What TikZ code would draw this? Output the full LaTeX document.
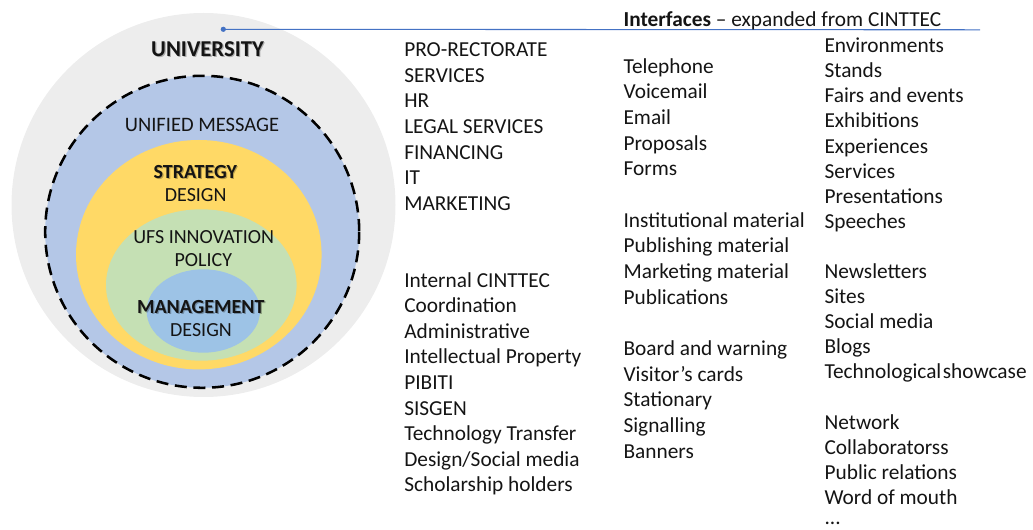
\documentclass[tikz,border=0pt]{standalone}
\usepackage{fontspec}
\setmainfont{Carlito}
\definecolor{ink}{HTML}{141414}
\definecolor{unigray}{HTML}{EDEDED}
\definecolor{msgblue}{HTML}{B4C7E7}
\definecolor{stratyellow}{HTML}{FFD966}
\definecolor{policygreen}{HTML}{C5E0B4}
\definecolor{mgmtblue}{HTML}{9DC3E6}
\definecolor{leader}{HTML}{4472C4}
\begin{document}
\begin{tikzpicture}[x=0.75pt,y=-0.75pt,
  item/.style={anchor=base west, inner sep=0pt, text=ink, font=\fontsize{16}{19}\selectfont},
  ring/.style={anchor=base, inner sep=0pt, text=ink, font=\fontsize{15}{18}\selectfont},
  ringbold/.style={ring, font=\fontsize{15}{18}\selectfont\bfseries},
  shade/.style={text=black, opacity=0.28},
]
\useasboundingbox (0,0) rectangle (1033,530);

% nested circles
\fill[unigray] (203.5,205) circle[radius=192];
\fill[msgblue] (202.2,231.8) ellipse[x radius=157, y radius=156];
\fill[stratyellow] (198.8,254.7) ellipse[x radius=122.8, y radius=114.7];
\fill[policygreen] (201.3,285) ellipse[x radius=95.3, y radius=75.7];
\fill[mgmtblue] (203.3,311) ellipse[x radius=56.7, y radius=41.7];
\draw[black, line width=1.9pt, dash pattern=on 9pt off 5pt] (202.2,231.8) ellipse[x radius=157, y radius=156];

% circle labels (bold ones carry a soft shadow)
\node[ring, shade, font=\fontsize{17}{20}\selectfont\bfseries] at (208.7,57.9) {UNIVERSITY};
\node[ring, font=\fontsize{17}{20}\selectfont\bfseries] (university) at (207.5,56.7) {UNIVERSITY};
\node[ring, font=\fontsize{15.4}{18}\selectfont] (unified) at (202,131.7) {UNIFIED MESSAGE};
\node[ringbold, shade] at (196.5,179.5) {STRATEGY};
\node[ringbold] (strategy) at (195.3,178.3) {STRATEGY};
\node[ring] (strategy2) at (195.7,201.7) {DESIGN};
\node[ring] (policy) at (203.7,243.3) {UFS INNOVATION};
\node[ring] (policy2) at (203.3,266.7) {POLICY};
\node[ringbold, shade] at (202,314.5) {MANAGEMENT};
\node[ringbold] (management) at (200.8,313.3) {MANAGEMENT};
\node[ring] (management2) at (201,336.7) {DESIGN};

% leader line from the university circle to the interfaces heading
\coordinate (dot) at (223.3,29.3);
\coordinate (lineend) at (980,29.8);
\draw[leader, line width=0.8pt] (dot) -- (lineend);
\fill[leader] (dot) circle[radius=2.6];
\node[item] (head) at (623.3,26.7) {\textbf{Interfaces} – expanded from CINTTEC};

% first column
\foreach \t [count=\i from 0] in {PRO-RECTORATE, SERVICES, HR, LEGAL SERVICES, FINANCING, IT, MARKETING}
  \node[item] (colA-\i) at ({404},{56.7+25.6*\i}) {\t};
\foreach \t [count=\i from 9] in {Internal CINTTEC, Coordination, Administrative, Intellectual Property, PIBITI, SISGEN, Technology Transfer, Design/Social media, Scholarship holders}
  \node[item] (colA-\i) at ({404},{56.7+25.6*\i}) {\t};

% second column
\foreach \t [count=\i from 0] in {Telephone, Voicemail, Email, Proposals, Forms}
  \node[item] (colB-\i) at ({623.3},{73.3+25.65*\i}) {\t};
\foreach \t [count=\i from 6] in {Institutional material, Publishing material, Marketing material, Publications}
  \node[item] (colB-\i) at ({623.3},{73.3+25.65*\i}) {\t};
\foreach \t [count=\i from 11] in {Board and warning, {Visitor’s cards}, Stationary, Signalling, Banners}
  \node[item] (colB-\i) at ({623.3},{73.3+25.65*\i}) {\t};

% third column
\foreach \t [count=\i from 0] in {Environments, Stands, Fairs and events, Exhibitions, Experiences, Services, Presentations, Speeches}
  \node[item] (colC-\i) at ({824.3},{52.7+25.1*\i}) {\t};
\foreach \t [count=\i from 9] in {Newsletters, Sites, Social media, Blogs, {Technological\hspace{-2.5pt} showcase}}
  \node[item] (colC-\i) at ({824.3},{52.7+25.1*\i}) {\t};
\foreach \t [count=\i from 15] in {Network, Collaboratorss, Public relations, Word of mouth}
  \node[item] (colC-\i) at ({824.3},{52.7+25.1*\i}) {\t};
\node[item] (colC-more) at (824.3,524.5) {...};
\end{tikzpicture}
\end{document}
